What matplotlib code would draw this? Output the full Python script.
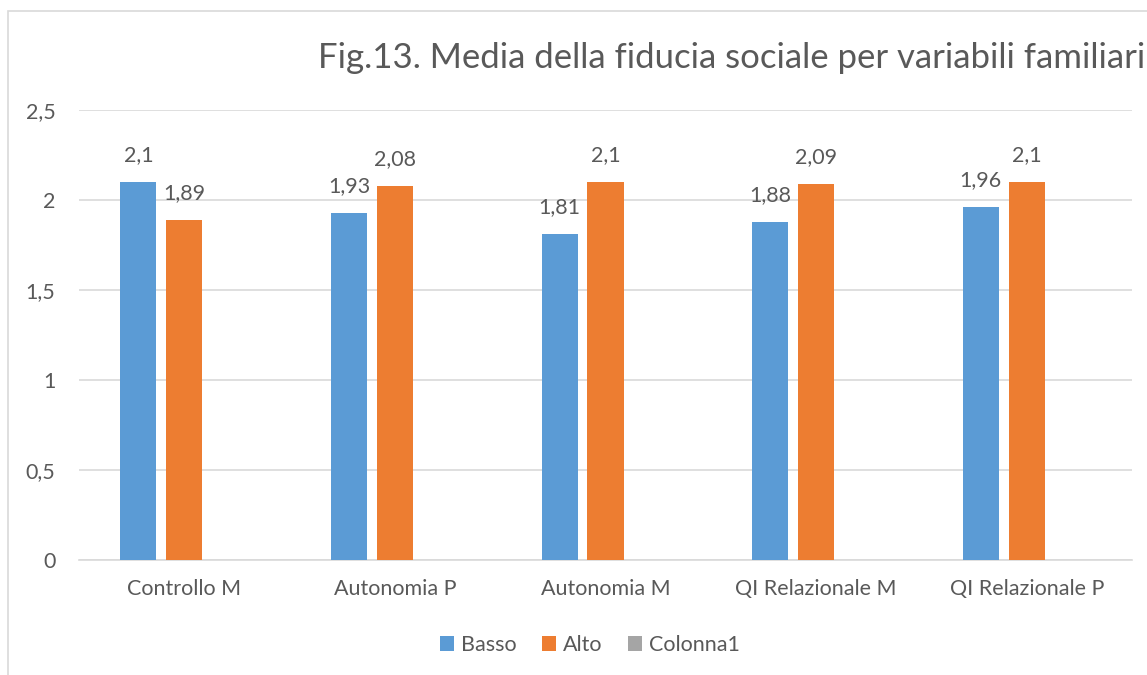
import numpy as np
import matplotlib.pyplot as plt
from matplotlib.patches import Rectangle

# data
categories = ['Controllo M', 'Autonomia P', 'Autonomia M', 'QI Relazionale M', 'QI Relazionale P']
basso = [2.1, 1.93, 1.81, 1.88, 1.96]
alto = [1.89, 2.08, 2.1, 2.09, 2.1]
colonna1 = [0, 0, 0, 0, 0]
yticks = [0, 0.5, 1, 1.5, 2, 2.5]

TEXT = '#595959'
GRID = '#D9D9D9'
FS = 15.5
plt.rcParams['font.family'] = ['Lato', 'DejaVu Sans']

fig = plt.figure(figsize=(11.47, 6.75), dpi=100)
ax = fig.add_axes([79 / 1147, 115 / 675, (1132 - 79) / 1147, 450 / 675])

# chart border (cut off at right and bottom like the source)
fig.patches.append(Rectangle((8 / 1147, -0.1), 1.2, (675 - 11) / 675 + 0.1,
                             transform=fig.transFigure, fill=False,
                             edgecolor=GRID, linewidth=1.2))

x = np.arange(len(categories))
w = 0.171
step = 0.218
b1 = ax.bar(x - step, basso, w, color='#5B9BD5', label='Basso', zorder=3)
b2 = ax.bar(x, alto, w, color='#ED7D31', label='Alto', zorder=3)
b3 = ax.bar(x + step, colonna1, w, color='#A5A5A5', label='Colonna1', zorder=3)

for bars, vals in ((b1, basso), (b2, alto)):
    for r, v in zip(bars, vals):
        ax.annotate(f'{v:g}'.replace('.', ','), (r.get_x() + r.get_width() / 2, v),
                    xytext=(0, 12), textcoords='offset points', ha='center',
                    va='bottom', fontsize=FS, color=TEXT)

ax.set_xlim(-0.5, len(categories) - 0.5)
ax.set_ylim(0, 2.5)
ax.set_yticks(yticks)
ax.set_yticklabels([f'{t:g}'.replace('.', ',') for t in yticks])
ax.set_xticks(x)
ax.set_xticklabels(categories)
ax.tick_params(axis='both', length=0, labelsize=FS, labelcolor=TEXT)
ax.tick_params(axis='x', pad=14)
ax.tick_params(axis='y', pad=17)
ax.grid(axis='y', color=GRID, linewidth=1.2, zorder=0)
for s in ('top', 'right', 'left'):
    ax.spines[s].set_visible(False)
ax.spines['bottom'].set_color(GRID)
ax.spines['bottom'].set_linewidth(1.2)

fig.text(318 / 1147, (675 - 68) / 675, 'Fig.13. Media della fiducia sociale per variabili familiari.',
         fontsize=25, color=TEXT, ha='left', va='baseline')

fig.legend(handles=[b1, b2, b3], loc='center', bbox_to_anchor=(590 / 1147, (675 - 645) / 675),
           ncol=3, frameon=False, fontsize=FS, labelcolor=TEXT, handlelength=0.65,
           handleheight=0.65, handletextpad=0.3, columnspacing=1.2)

fig.savefig('out.png', dpi=100)
